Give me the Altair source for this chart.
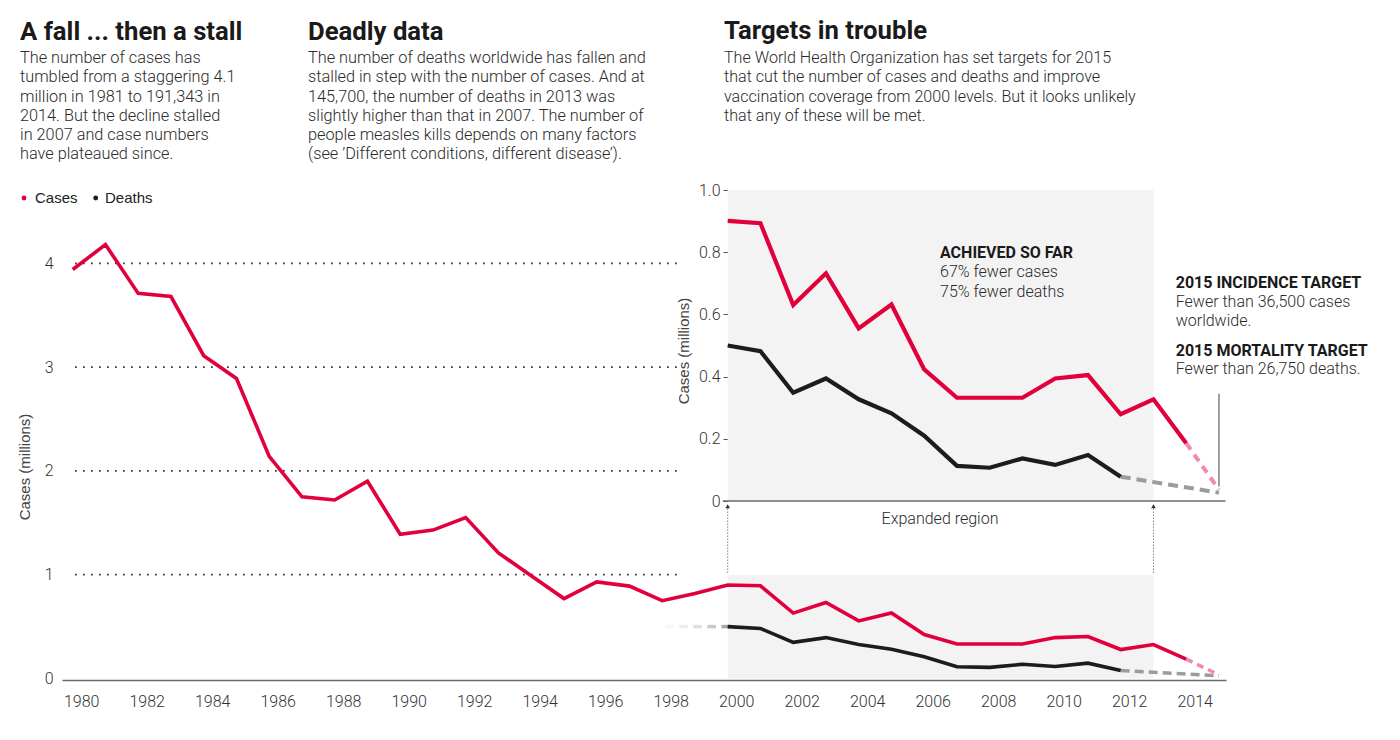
import altair as alt
import pandas as pd

# ---------------- data ----------------
years = list(range(1980, 2015))
cases = [3.94, 4.18, 3.71, 3.68, 3.11, 2.89, 2.14, 1.75, 1.72, 1.90,
         1.39, 1.43, 1.55, 1.21, 0.99, 0.77, 0.93, 0.89, 0.75, 0.82,
         0.901, 0.893, 0.630, 0.732, 0.555, 0.632, 0.423, 0.332, 0.332, 0.332,
         0.394, 0.405, 0.279, 0.327, 0.186]
death_years = list(range(2000, 2013))
deaths = [0.500, 0.482, 0.348, 0.394, 0.327, 0.282, 0.210, 0.113, 0.107, 0.137,
          0.116, 0.148, 0.078]
target_year = 2015
case_target = 0.0365
death_target = 0.02675
region = [2000, 2013]
main_ticks = [0, 1, 2, 3, 4]
inset_ticks = [0, 0.2, 0.4, 0.6, 0.8, 1.0]
year_labels = list(range(1980, 2015, 2))

# ---------------- style ----------------
RED = "#e2003c"
PINK = "#f28aa8"
BLACK = "#1c1c1c"
GRAY = "#9c9c9c"
BG = "#f3f3f3"
TXT = "#2a2a2a"
BODY = "Roboto"
HEAD = "Roboto"
LEG = "Liberation Sans"

W, H = 1164, 500

XS = alt.Scale(domain=[1979.673, 2015.215], range=[0, W], nice=False, zero=False)
XAX = alt.Axis(values=year_labels, format="d", title=None, ticks=False, tickSize=0,
               grid=False, domainColor="#6b6b6b", domainWidth=1.5, labelFont=BODY,
               labelFontSize=16, labelFontWeight=300, labelColor="#333",
               labelPadding=13, labelOffset=8.5, labelOverlap=False)
YMS = alt.Scale(domain=[0, 4], range=[498.5, 83.3], nice=False, zero=False)
YMAX = alt.Axis(values=main_ticks, title=None, ticks=False, tickSize=0, domain=False,
                grid=False, labelPadding=9, labelFont=BODY, labelFontSize=16,
                labelFontWeight=300, labelColor="#333", labelOverlap=False)
YIS = alt.Scale(domain=[0, 1], range=[321, 10], nice=False, zero=False)
YIAX = alt.Axis(values=inset_ticks, orient="left", offset=-666, title=None,
                tickSize=5, tickColor="#555", tickWidth=1, domain=False, grid=False,
                labelPadding=3, labelFont=BODY, labelFontSize=16, labelFontWeight=300,
                labelColor="#333", labelOverlap=False,
                labelExpr="datum.value == 0 ? '0' : format(datum.value, '.1f')")


def X(field):
    return alt.X(field, type="quantitative", scale=XS, axis=XAX)


def YM(field):
    return alt.Y(field, type="quantitative", scale=YMS, axis=YMAX)


def YI(field):
    return alt.Y(field, type="quantitative", scale=YIS, axis=YIAX)


cases_df = pd.DataFrame({"year": years, "v": cases})
cases_in = cases_df[cases_df.year >= 2000]
deaths_df = pd.DataFrame({"year": death_years, "v": deaths})
case_proj = pd.DataFrame({"year": [years[-1], target_year], "v": [cases[-1], case_target]})
death_proj = pd.DataFrame({"year": [death_years[-1], target_year], "v": [deaths[-1], death_target]})
region_df = pd.DataFrame({"x": [region[0]], "x2": [region[1]], "y": [0], "y2": [1]})
grid_df = pd.DataFrame({"y": main_ticks[1:], "x": [1980.07] * 4, "x2": [1998.5] * 4})
fade_start = [1998.09 + 0.43 * i for i in range(5)]
fade_df = pd.DataFrame({"x": fade_start, "x2": [s + 0.26 for s in fade_start],
                        "y": [deaths[0]] * 5, "op": [0.06, 0.12, 0.22, 0.38, 0.62]})
arrow_df = pd.DataFrame({"x": region, "y": [1.02, 1.02], "y2": [1.64, 1.64]})
head_df = pd.DataFrame({"x": region, "y": [1.66, 1.66]})
ONE = pd.DataFrame({"k": [0]})

# ---------------- main chart ----------------
m_rect = alt.Chart(region_df).mark_rect(color=BG).encode(
    x=X("x"), x2="x2", y=YM("y"), y2="y2")
m_grid = alt.Chart(grid_df).mark_rule(color="#333", strokeWidth=1.7, strokeDash=[1.7, 6.3]).encode(
    x=X("x"), x2="x2", y=YM("y"))
m_fade = alt.Chart(fade_df).mark_rule(color="#6f6f6f", strokeWidth=3.5).encode(
    x=X("x"), x2="x2", y=YM("y"), opacity=alt.Opacity("op:Q", scale=None, legend=None))
m_dproj = alt.Chart(death_proj).mark_line(color=GRAY, strokeWidth=3.5, strokeDash=[9, 5]).encode(
    x=X("year"), y=YM("v"))
m_cproj = alt.Chart(case_proj).mark_line(color=PINK, strokeWidth=3.5, strokeDash=[7, 5]).encode(
    x=X("year"), y=YM("v"))
m_deaths = alt.Chart(deaths_df).mark_line(color=BLACK, strokeWidth=3.6).encode(
    x=X("year"), y=YM("v"))
m_cases = alt.Chart(cases_df).mark_line(color=RED, strokeWidth=3.6).encode(
    x=X("year"), y=YM("v"))
m_arrow = alt.Chart(arrow_df).mark_rule(color="#444", strokeWidth=1, strokeDash=[1, 2]).encode(
    x=X("x"), y=YM("y"), y2="y2")
m_head = alt.Chart(head_df).mark_point(shape="triangle-up", filled=True, size=22,
                                        color="#333", opacity=1).encode(x=X("x"), y=YM("y"))
main = alt.layer(m_rect, m_grid, m_fade, m_dproj, m_cproj, m_deaths, m_cases, m_arrow, m_head)

# ---------------- inset ----------------
i_rect = alt.Chart(region_df).mark_rect(color=BG).encode(
    x=X("x"), x2="x2", y=YI("y"), y2="y2")
i_base = alt.Chart(pd.DataFrame({"x": [1999.85], "x2": [2015.2], "y": [0]})).mark_rule(
    color="#6b6b6b", strokeWidth=1.5).encode(x=X("x"), x2="x2", y=YI("y"))
i_ptr = alt.Chart(pd.DataFrame({"x": [target_year], "y": [0.345], "y2": [case_target + 0.01]})).mark_rule(
    color="#808080", strokeWidth=1.5).encode(x=X("x"), y=YI("y"), y2="y2")
i_dproj = alt.Chart(death_proj).mark_line(color=GRAY, strokeWidth=4, strokeDash=[10, 6]).encode(
    x=X("year"), y=YI("v"))
i_cproj = alt.Chart(case_proj).mark_line(color=PINK, strokeWidth=4, strokeDash=[8, 6]).encode(
    x=X("year"), y=YI("v"))
i_deaths = alt.Chart(deaths_df).mark_line(color=BLACK, strokeWidth=4.2).encode(
    x=X("year"), y=YI("v"))
i_cases = alt.Chart(cases_in).mark_line(color=RED, strokeWidth=4.2).encode(
    x=X("year"), y=YI("v"))
inset = alt.layer(i_rect, i_base, i_ptr, i_dproj, i_cproj, i_deaths, i_cases)


# ---------------- texts ----------------
def txt(lines, px, py, size, weight="normal", font=BODY, color=TXT, align="left",
        baseline="alphabetic", lh=None, angle=0):
    kw = dict(text=lines, align=align, baseline=baseline, font=font, fontSize=size,
              fontWeight=weight, color=color)
    if lh is not None:
        kw["lineHeight"] = lh
    if angle:
        kw["angle"] = angle
    return alt.Chart(ONE).mark_text(**kw).encode(x=alt.value(px), y=alt.value(py))


texts = [
    txt("A fall ... then a stall", -42, -140, 25.7, "bold", HEAD, "#1a1a1a"),
    txt("Deadly data", 246, -140, 25.7, "bold", HEAD, "#1a1a1a"),
    txt("Targets in trouble", 662, -140.7, 25.7, "bold", HEAD, "#1a1a1a"),
    txt(["The number of cases has", "tumbled from a staggering 4.1",
         "million in 1981 to 191,343 in", "2014. But the decline stalled",
         "in 2007 and case numbers", "have plateaued since."], -42, -116.7, 16.3, 300, lh=19.2),
    txt(["The number of deaths worldwide has fallen and",
         "stalled in step with the number of cases. And at",
         "145,700, the number of deaths in 2013 was",
         "slightly higher than that in 2007. The number of",
         "people measles kills depends on many factors",
         "(see \u2019Different conditions, different disease\u2019)."], 246, -116.7, 16.3, 300, lh=19.2),
    txt(["The World Health Organization has set targets for 2015",
         "that cut the number of cases and deaths and improve",
         "vaccination coverage from 2000 levels. But it looks unlikely",
         "that any of these will be met."], 662, -116.7, 16.1, 300, lh=19.2),
    txt("Cases", -27, 22.7, 15, "normal", LEG, "#222"),
    txt("Deaths", 43, 22.7, 15, "normal", LEG, "#222"),
    txt("ACHIEVED SO FAR", 878, 78, 16, "bold", HEAD, "#1a1a1a"),
    txt(["67% fewer cases", "75% fewer deaths"], 878, 97.3, 16, 300, lh=19.4),
    txt("2015 INCIDENCE TARGET", 1113.7, 108.3, 16, "bold", HEAD, "#1a1a1a"),
    txt(["Fewer than 36,500 cases", "worldwide."], 1113.7, 127.3, 16, 300, lh=18.5),
    txt("2015 MORTALITY TARGET", 1113.7, 175.7, 16, "bold", HEAD, "#1a1a1a"),
    txt("Fewer than 26,750 deaths.", 1113.7, 194, 16, 300),
    txt("Expanded region", 878, 344, 16, 300, align="center"),
    txt("Cases (millions)", -37, 287, 15, "normal", LEG, "#444", align="center",
        baseline="middle", angle=270),
    txt("Cases (millions)", 622, 171, 15, "normal", LEG, "#444", align="center",
        baseline="middle", angle=270),
]
leg_red = alt.Chart(ONE).mark_point(filled=True, size=24, color=RED, opacity=1).encode(
    x=alt.value(-38), y=alt.value(18))
leg_blk = alt.Chart(ONE).mark_point(filled=True, size=24, color=BLACK, opacity=1).encode(
    x=alt.value(33.7), y=alt.value(18))
annot = alt.layer(*texts, leg_red, leg_blk)

chart = alt.layer(main, inset, annot).resolve_scale(y="independent").properties(
    width=W, height=H,
    padding={"left": 54, "top": 172, "right": 166, "bottom": 52},
    autosize=alt.AutoSizeParams(type="none"),
    background="white",
).configure_view(stroke=None)

chart.save("out.html", embed_options={"renderer": "svg", "actions": False})
